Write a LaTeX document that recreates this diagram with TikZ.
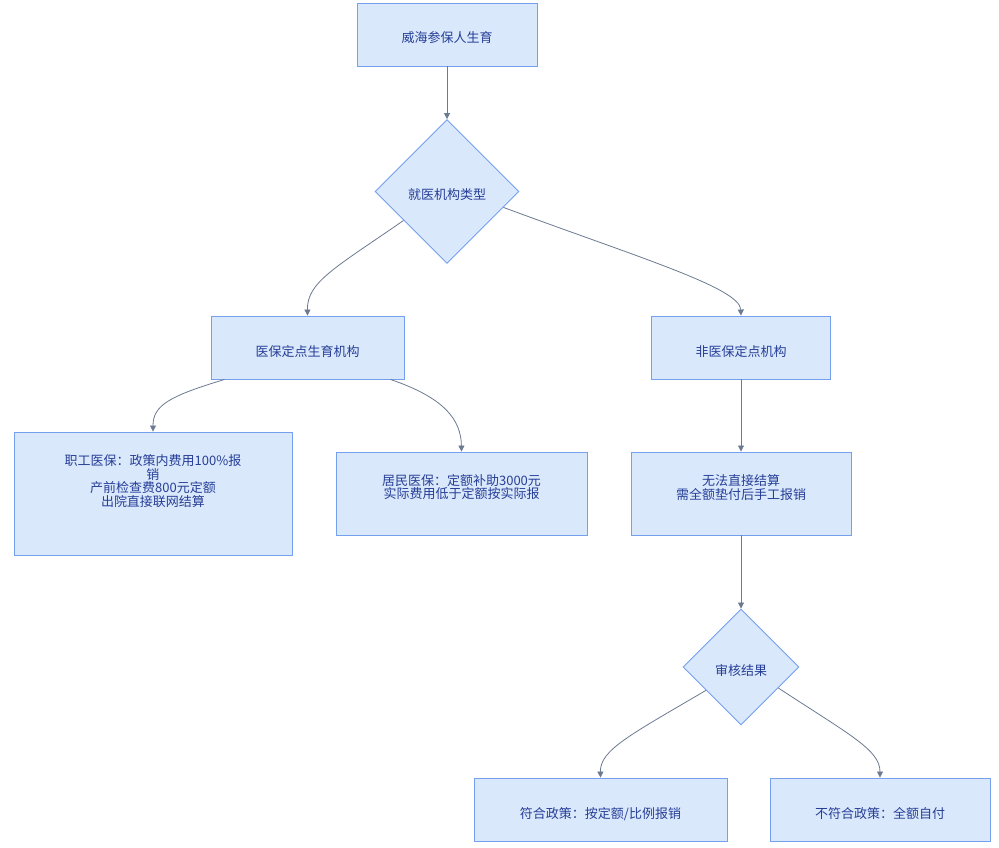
\documentclass[tikz,border=0pt]{standalone}
\usepackage{fontspec}
\setmainfont{Noto Sans CJK SC}
\usetikzlibrary{shapes.geometric,arrows.meta,calc}
\definecolor{boxfill}{RGB}{218,232,252}
\definecolor{boxline}{RGB}{116,160,238}
\definecolor{txtcol}{RGB}{38,62,150}
\definecolor{linecol}{RGB}{108,122,145}
\begin{document}
\begin{tikzpicture}[x=1pt,y=-1pt,
  box/.style={draw=boxline,fill=boxfill,line width=0.9pt,inner sep=0pt,text=txtcol,font=\fontsize{13}{14}\selectfont,align=center,text height=17pt,text depth=0pt},
  dia/.style={diamond,draw=boxline,fill=boxfill,line width=0.9pt,inner sep=0pt,text=txtcol,font=\fontsize{13}{14}\selectfont,align=center,text height=17pt,text depth=0pt},
  txt/.style={text=txtcol,font=\fontsize{13}{13.8}\selectfont,align=center,inner sep=0pt},
  conn/.style={draw=linecol,line width=0.8pt,-{Triangle[length=6pt,width=6pt]}}]
\useasboundingbox (0,0) rectangle (999,848);
\fill[white] (0,0) rectangle (999,848);

\node[box,minimum width=180pt,minimum height=63pt] (top) at (447,34.5) {威海参保人生育};
\node[dia,minimum width=144pt,minimum height=144pt] (d1) at (447,191.5) {就医机构类型};
\node[box,minimum width=193pt,minimum height=63pt] (b1) at (307.5,347.5) {医保定点生育机构};
\node[box,minimum width=179pt,minimum height=63pt] (b2) at (741,347.5) {非医保定点机构};

\node[box,minimum width=278pt,minimum height=123pt] (c1) at (153,493.5) {};
\node[txt] (c1t) at (153,481) {职工医保：政策内费用100\%报\\销\\产前检查费800元定额\\出院直接联网结算};
\node[box,minimum width=251pt,minimum height=83pt] (c2) at (461.5,493.5) {};
\node[txt] (c2t) at (461.5,487) {居民医保：定额补助3000元\\实际费用低于定额按实际报};
\node[box,minimum width=220pt,minimum height=83pt] (c3) at (741,493.5) {};
\node[txt] (c3t) at (741,487.5) {无法直接结算\\需全额垫付后手工报销};

\node[dia,minimum width=116pt,minimum height=116pt] (d2) at (741,667) {审核结果};
\node[box,minimum width=253pt,minimum height=63pt] (e1) at (600.5,809.5) {符合政策：按定额/比例报销};
\node[box,minimum width=220pt,minimum height=63pt] (e2) at (880,809.5) {不符合政策：全额自付};

\draw[conn] (top.south) -- (d1.north);
\coordinate (s1) at ($(d1.west)!0.4!(d1.south)$);
\draw[conn] (s1) .. controls (335,268) and (307,282) .. (b1.north);
\coordinate (s2) at ($(d1.east)!0.22!(d1.south)$);
\draw[conn] (s2) .. controls (640,258) and (740,288) .. (b2.north);
\coordinate (s3) at ($(b1.south west)+(14,0)$);
\draw[conn] (s3) .. controls (170,396) and (153,405) .. (c1.north);
\coordinate (s4) at ($(b1.south east)+(-14,0)$);
\draw[conn] (s4) .. controls (445,398) and (461,420) .. (c2.north);
\draw[conn] (b2.south) -- (c3.north);
\draw[conn] (c3.south) -- (d2.north);
\coordinate (s5) at ($(d2.west)!0.4!(d2.south)$);
\draw[conn] (s5) .. controls (630,735) and (600,750) .. (e1.north);
\coordinate (s6) at ($(d2.east)!0.36!(d2.south)$);
\draw[conn] (s6) .. controls (850,735) and (880,750) .. (e2.north);
\end{tikzpicture}
\end{document}
